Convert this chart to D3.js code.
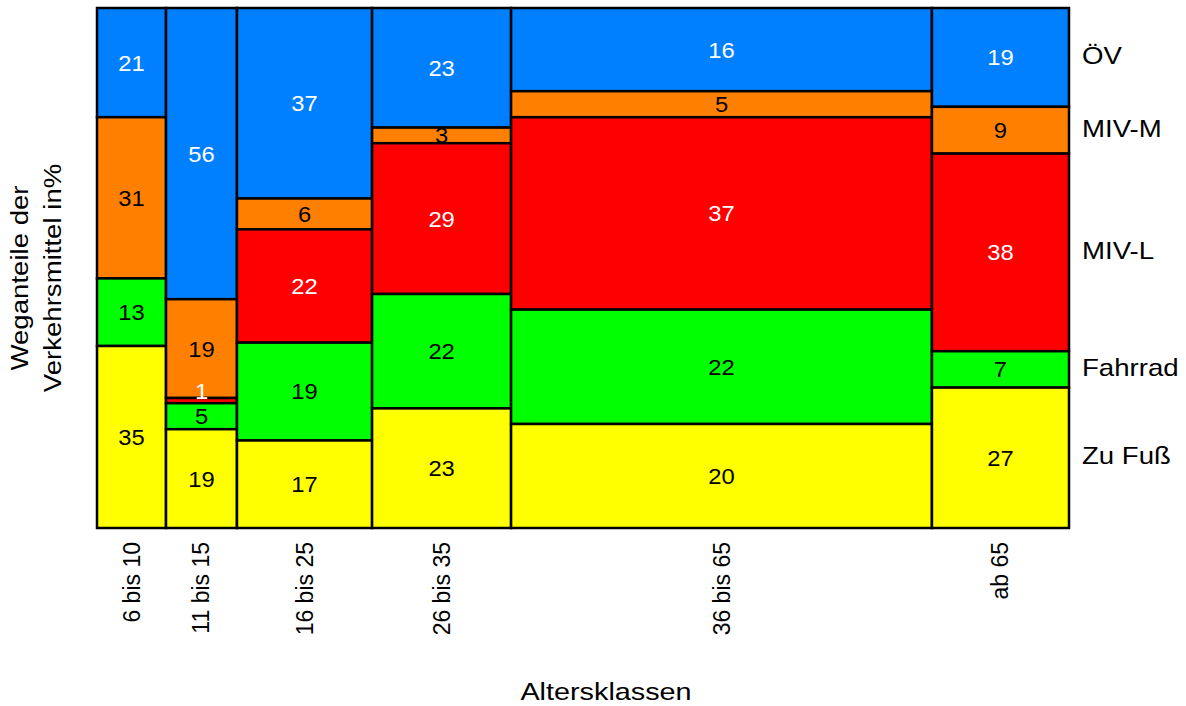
<!DOCTYPE html>
<html><head><meta charset="utf-8">
<script src="https://cdn.jsdelivr.net/npm/d3@7"></script>
<style>body{margin:0;background:#fff}svg{display:block;font-family:"Liberation Sans",Arial,sans-serif}</style>
</head><body><svg id="c" width="1186" height="706"></svg>
<script>
const categories = ["6 bis 10","11 bis 15","16 bis 25","26 bis 35","36 bis 65","ab 65"];
const columnShares = [7.1, 7.3, 13.9, 14.3, 43.3, 14.1];
const modes = ["ÖV","MIV-M","MIV-L","Fahrrad","Zu Fuß"];
const oev    = [21, 56, 37, 23, 16, 19];
const mivM   = [31, 19, 6, 3, 5, 9];
const mivL   = [0, 1, 22, 29, 37, 38];
const fahrrad= [13, 5, 19, 22, 22, 7];
const zuFuss = [35, 19, 17, 23, 20, 27];
const modeColors = ["#0080FF","#FF8000","#FF0000","#00FF00","#FFFF00"];
const labelColors = ["#fff","#000","#fff","#000","#000"];

const series = [oev, mivM, mivL, fahrrad, zuFuss];
const svg = d3.select("#c");
const mLeft = 97, mRight = 1069, mTop = 8, mBottom = 528;

const total = d3.sum(columnShares);
const cum = [0]; columnShares.forEach((s,i)=>cum.push(cum[i]+s));
const x = d3.scaleLinear().domain([0,total]).range([mLeft,mRight]);
const y = d3.scaleLinear().domain([0,100]).range([mTop,mBottom]);

const cells = [];
categories.forEach((cat,ci)=>{
  const colSum = d3.sum(series, s=>s[ci]);
  let acc = 0;
  series.forEach((s,mi)=>{
    const v = s[ci];
    if (v>0) cells.push({ci, mi, v, y0: acc/colSum*100, y1:(acc+v)/colSum*100});
    acc += v;
  });
});

const g = svg.append("g");
g.selectAll("rect").data(cells).join("rect")
  .attr("x", d=>x(cum[d.ci]))
  .attr("width", d=>x(cum[d.ci+1])-x(cum[d.ci]))
  .attr("y", d=>y(d.y0))
  .attr("height", d=>y(d.y1)-y(d.y0))
  .attr("fill", d=>modeColors[d.mi])
  .attr("stroke","#000").attr("stroke-width",2.5);

const tiny = d => (y(d.y1)-y(d.y0)) < 8;
g.selectAll("text.val").data(cells).join("text").attr("class","val")
  .attr("transform", d=>{
    const cy = tiny(d) ? y(d.y1) - 4 : (y(d.y0)+y(d.y1))/2;
    return `translate(${(x(cum[d.ci])+x(cum[d.ci+1]))/2},${cy}) scale(1.08,1)`;
  })
  .attr("dy", d=> tiny(d) ? "0em" : "0.36em")
  .attr("text-anchor","middle")
  .attr("font-size",22)
  .attr("fill", d=>labelColors[d.mi])
  .text(d=>d.v);

// small right tick line
svg.append("line").attr("x1",mRight).attr("x2",mRight).attr("y1",88).attr("y2",170)
  .attr("stroke","#000").attr("stroke-width",2);

// legend labels at the last column's segment centers
const last = categories.length-1;
const lastCells = cells.filter(d=>d.ci===last);
svg.selectAll("text.leg").data(lastCells).join("text").attr("class","leg")
  .attr("transform", d=>`translate(1082,${(y(d.y0)+y(d.y1))/2 - 2}) scale(1.15,1)`)
  .attr("dy","0.36em")
  .attr("font-size",24)
  .attr("fill","#000")
  .text(d=>modes[d.mi]);

// x tick labels
svg.selectAll("text.xt").data(categories).join("text").attr("class","xt")
  .attr("transform",(d,i)=>`translate(${(x(cum[i])+x(cum[i+1]))/2+8},542) rotate(-90)`)
  .attr("text-anchor","end")
  .attr("font-size",23)
  .text(d=>d);

svg.append("text").attr("transform","translate(606,700) scale(1.2,1)")
  .attr("text-anchor","middle").attr("font-size",24).text("Altersklassen");

const yl = svg.append("text").attr("transform",`translate(0,278) rotate(-90) scale(1.15,1)`)
  .attr("text-anchor","middle").attr("font-size",24);
yl.append("tspan").attr("x",0).attr("y",28).text("Weganteile der");
yl.append("tspan").attr("x",0).attr("y",61).text("Verkehrsmittel in%");
</script></body></html>
